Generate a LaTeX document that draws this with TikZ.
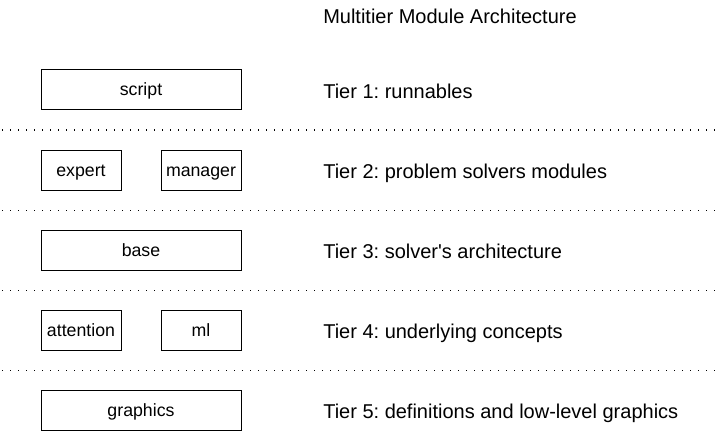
\documentclass[tikz,border=0pt]{standalone}
\usepackage{fontspec}
\setmainfont{Liberation Sans}
\frenchspacing
\tikzstyle{module}=[draw, line width=0.75pt, minimum height=30pt, inner sep=0pt, text height=11.2pt, text depth=2.2pt, font=\fontsize{13.3}{16}\selectfont]
\tikzstyle{wide}=[minimum width=150pt]
\tikzstyle{narrow}=[minimum width=60pt]
\tikzstyle{tier}=[anchor=west, inner sep=0pt, text height=10.8pt, text depth=3pt, font=\fontsize{15}{18}\selectfont]
\tikzstyle{separator}=[line width=0.75pt, dash pattern=on 0.75pt off 5.25pt]

\begin{document}
\begin{tikzpicture}[x=0.75pt,y=-0.75pt]
  \useasboundingbox (0,0) rectangle (723,431);
  \draw (323,18) node[tier] (title) {Multitier Module Architecture};

  %% Tier 1
  \draw (141,90) node[module,wide] (script) {script};
  \draw (323,93) node[tier] (T1) {Tier 1: runnables};
  %% Tier 2
  \draw (81,170) node[module,narrow] (expert) {expert};
  \draw (201,170) node[module,narrow] (manager) {manager};
  \draw (323,173) node[tier] (T2) {Tier 2: problem solvers modules};
  %% Tier 3
  \draw (141,250) node[module,wide] (base) {base};
  \draw (323,253) node[tier] (T3) {Tier 3: solver\textquotesingle s architecture};
  %% Tier 4
  \draw (81,330) node[module,narrow] (attention) {attention};
  \draw (201,330) node[module,narrow] (ml) {ml};
  \draw (323,333) node[tier] (T4) {Tier 4: underlying concepts};
  %% Tier 5
  \draw (141,410) node[module,wide] (graphics) {graphics};
  \draw (323,413) node[tier] (T5) {Tier 5: definitions and low-level graphics};

  %% Separators
  \draw[separator] (2,130) -- (720,130);
  \draw[separator] (2,210) -- (720,210);
  \draw[separator] (2,290) -- (720,290);
  \draw[separator] (2,370) -- (720,370);
\end{tikzpicture}
\end{document}
